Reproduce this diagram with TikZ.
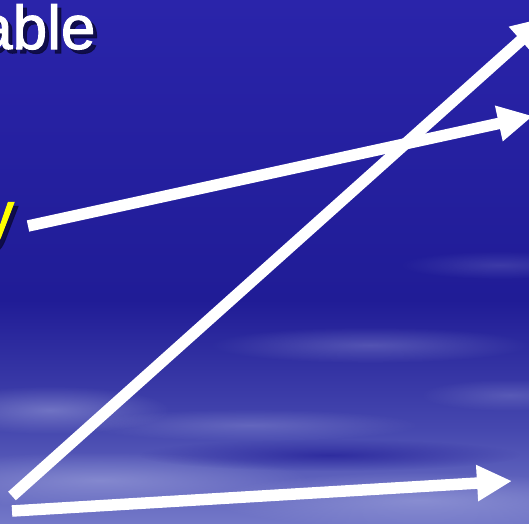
\documentclass[tikz,border=0pt]{standalone}
\usepackage{fontspec}
\setmainfont{Liberation Sans}
\newfontfamily\slidefont[FakeBold=1.6]{Liberation Sans}
\usetikzlibrary{arrows.meta,fadings}
\definecolor{bgtop}{RGB}{42,36,170}
\definecolor{bgmid}{RGB}{32,28,150}
\definecolor{bglow}{RGB}{70,72,175}
\definecolor{bgbot}{RGB}{115,120,200}
\definecolor{streak}{RGB}{170,175,225}
\definecolor{shadowc}{RGB}{12,10,60}
\definecolor{ylw}{RGB}{255,255,0}
\tikzfading[name=softblob, inner color=transparent!0, outer color=transparent!100]
\tikzset{
  bigarrow/.style={draw=white, line width=11.5pt, line cap=butt,
    -{Triangle[length=35pt,width=34pt]}},
  streakblob/.style={fill=streak, path fading=softblob},
  slidetext/.style={inner sep=0pt, anchor=base west, font=\slidefont\fontsize{62}{70}\selectfont},
  shadowtext/.style={slidetext, text=shadowc, text opacity=0.85}
}
\begin{document}
\begin{tikzpicture}[x=1pt,y=-1pt]
\useasboundingbox (0,0) rectangle (529,523);
\clip (0,0) rectangle (529,523);
% background
\shade[top color=bgtop, bottom color=bgmid] (0,0) rectangle (529,300);
\shade[top color=bgmid, bottom color=bglow] (0,300) rectangle (529,430);
\shade[top color=bglow, bottom color=bgbot] (0,430) rectangle (529,523);
% streaks
\fill[streakblob, opacity=0.3] (370,345) ellipse (160 and 18);
\fill[streakblob, opacity=0.2] (500,265) ellipse (100 and 14);
\fill[streakblob, opacity=0.25] (510,395) ellipse (90 and 16);
\fill[streakblob, opacity=0.45] (50,410) ellipse (120 and 24);
\fill[streakblob, opacity=0.3] (250,425) ellipse (170 and 16);
\fill[streakblob, opacity=0.5] (100,480) ellipse (210 and 28);
\fill[streakblob, opacity=0.5] (420,500) ellipse (210 and 28);
\fill[bgmid, path fading=softblob, opacity=0.7] (330,455) ellipse (190 and 16);
% texts (shadow + text)
\node[shadowtext] (ableS) at (-18,53) {able};
\node[slidetext, text=white] (able) at (-22,49) {able};
\node[shadowtext] (yS) at (-13,239) {y};
\node[slidetext, text=ylw] (yT) at (-17,235) {y};
% arrows
\coordinate (a1s) at (28,226);
\coordinate (a1e) at (533,116);
\coordinate (a2s) at (12,496);
\coordinate (a2e) at (547,17);
\coordinate (a3s) at (12,511);
\coordinate (a3e) at (512,481);
\draw[bigarrow] (a1s) -- (a1e);
\draw[bigarrow] (a2s) -- (a2e);
\draw[bigarrow] (a3s) -- (a3e);
\end{tikzpicture}
\end{document}
